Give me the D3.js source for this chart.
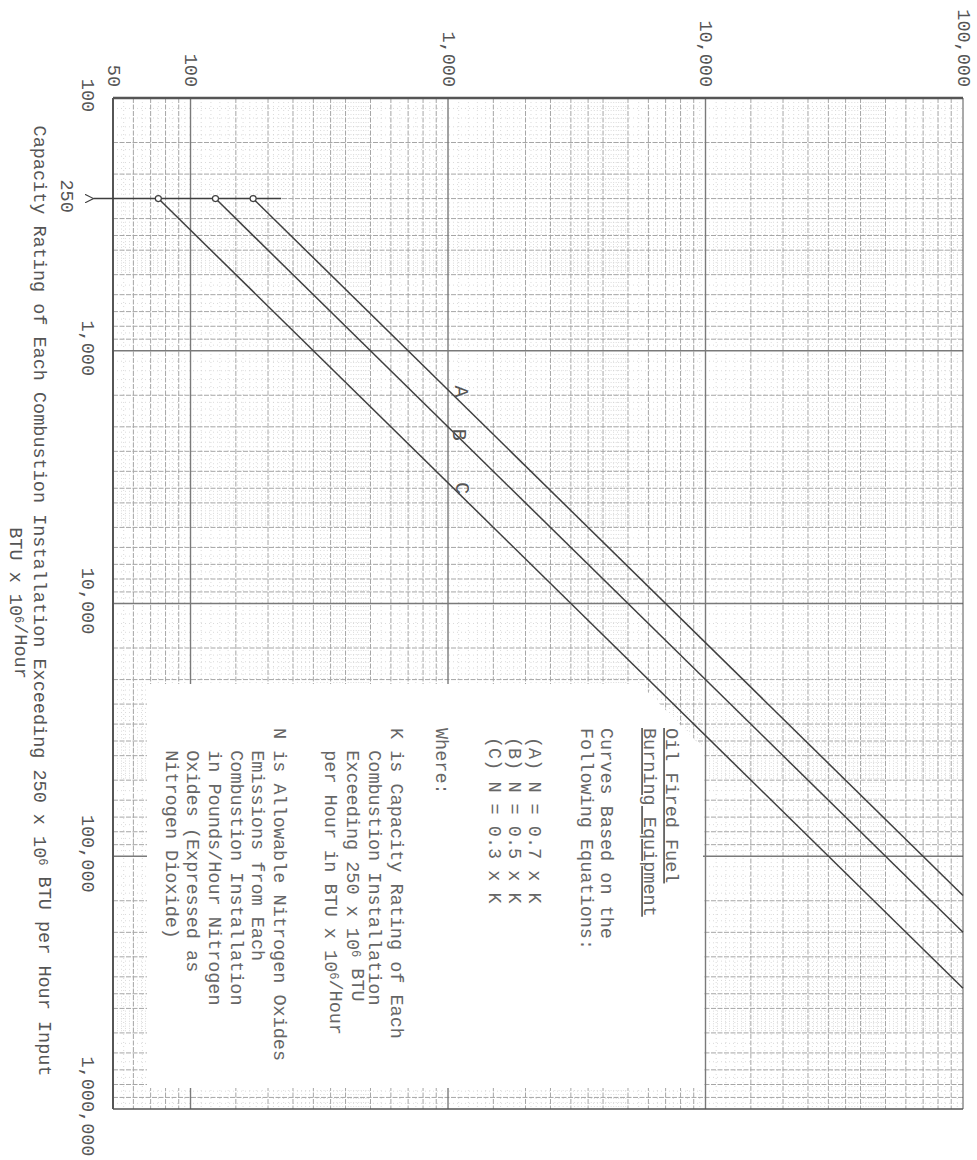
<!DOCTYPE html>
<html>
<head>
    <style type="text/css">
        body { margin: 0; background: #fff; }
        svg { display: block; }
        text {
            font-family: "Liberation Mono", "DejaVu Sans Mono", monospace;
            font-size: 18.5px;
            fill: #555;
        }
        .note text { fill: #666; }
        .fine { stroke: #d2d2d2; stroke-width: 0.8px; stroke-dasharray: 1 3; }
        .mid { stroke: #a6a6a6; stroke-width: 1px; stroke-dasharray: 5 1.5; }
        .dec { stroke: #7a7a7a; stroke-width: 1.4px; }
        .frame { stroke: #555; }
        .curve { stroke: #3f3f3f; stroke-width: 1.5px; fill: none; }
    </style>
    <script src="https://d3js.org/d3.v7.min.js"></script>
</head>
<body>
    <svg id="chart" width="977" height="1160"></svg>
<script type="text/javascript">
// allowable NOx (N, lb/hr) against capacity (K, 10^6 BTU/hr), page turned on its side
const nTicks = [50, 100, 1000, 10000, 100000];
const nTickLabels = ["50", "100", "1,000", "10,000", "100,000"];
const kTicks = [100, 250, 1000, 10000, 100000, 1000000];
const kTickLabels = ["100", "250", "1,000", "10,000", "100,000", "1,000,000"];

const curveNames = ["A", "B", "C"];
const curveK = [[250, 143000], [250, 200000], [250, 333000]];
const curveN = [[175, 100000], [125, 100000], [75, 100000]];
const labelK = [1450, 2150, 3500];
const labelN = [1130, 1110, 1140];

const thresholdK = 250;
const thresholdN = [42, 225];

const legendLines = [
    "Oil Fired Fuel",
    "Burning Equipment",
    "Curves Based on the",
    "Following Equations:",
    "(A) N = 0.7 x K",
    "(B) N = 0.5 x K",
    "(C) N = 0.3 x K",
    "Where:",
    "K is Capacity Rating of Each",
    "  Combustion Installation",
    "  Exceeding 250 x 10^6 BTU",
    "  per Hour in BTU x 10^6/Hour",
    "N is Allowable Nitrogen Oxides",
    "  Emissions from Each",
    "  Combustion Installation",
    "  in Pounds/Hour Nitrogen",
    "  Oxides (Expressed as",
    "  Nitrogen Dioxide)"
];
const titleLines = [
    "Capacity Rating of Each Combustion Installation Exceeding 250 x 10^6 BTU per Hour Input",
    "BTU x 10^6/Hour"
];

const svg = d3.select("#chart");

// N runs left to right, K runs top to bottom
const x = d3.scaleLog().domain([50, 100000]).range([113, 963]);
const y = d3.scaleLog().domain([100, 1000000]).range([98, 1109]);

// log paper rulings
const midSteps = [1.5, 2, 2.5, 3, 3.5, 4, 5, 6, 7, 8, 9];
function ruling(lo, hi) {
    const dec = [], mid = [], fine = [];
    for (let b = 10; b < hi; b *= 10) {
        if (b > lo) dec.push(b);
        midSteps.forEach(m => { const v = b * m; if (v > lo && v < hi) mid.push(v); });
        for (let k = 11; k < 100; k += (k < 20 ? 1 : k < 50 ? 1 : 5)) {
            const m = k / 10;
            if (midSteps.indexOf(m) >= 0 || k % 10 === 0) continue;
            const v = b * m;
            if (v > lo && v < hi) fine.push(v);
        }
    }
    return { dec, mid, fine };
}
const rx = ruling(50, 100000);
const ry = ruling(100, 1000000);

const grid = svg.append("g").attr("id", "grid");
["fine", "mid", "dec"].forEach(cls => {
    grid.append("g").selectAll("line")
        .data(rx[cls]).enter().append("line")
        .attr("class", cls)
        .attr("x1", d => x(d)).attr("x2", d => x(d))
        .attr("y1", y.range()[0]).attr("y2", y.range()[1]);
    grid.append("g").selectAll("line")
        .data(ry[cls]).enter().append("line")
        .attr("class", cls)
        .attr("y1", d => y(d)).attr("y2", d => y(d))
        .attr("x1", x.range()[0]).attr("x2", x.range()[1]);
});
// frame: heavy top and left, lighter bottom and right
const frame = [
    [x.range()[0], y.range()[0], x.range()[1], y.range()[0], 2.4],
    [x.range()[0], y.range()[0], x.range()[0], y.range()[1], 2.0],
    [x.range()[0], y.range()[1], x.range()[1], y.range()[1], 1.3],
    [x.range()[1], y.range()[0], x.range()[1], y.range()[1], 1.0]
];
grid.selectAll("line.frame").data(frame).enter().append("line")
    .attr("class", "frame")
    .attr("x1", d => d[0]).attr("y1", d => d[1])
    .attr("x2", d => d[2]).attr("y2", d => d[3])
    .style("stroke-width", d => d[4] + "px");

// white pasted-on note covering the lower left of the paper
svg.append("path")
    .attr("d", "M147,684 L640,684 L703,748 L703,1088 L147,1088 Z")
    .attr("fill", "#fff");

// text helper: "^6" becomes a raised 6
function addText(sel, str) {
    str.split(/(\^6)/).forEach(part => {
        if (part === "^6") {
            sel.append("tspan").attr("dy", "-0.4em").style("font-size", "12px").text("6");
            sel.append("tspan").attr("dy", "0.4em").text("");
        } else if (part.length) {
            sel.append("tspan").text(part);
        }
    });
}

// axes
const topAxis = svg.append("g")
    .call(d3.axisTop(x).tickValues(nTicks).tickFormat((d, i) => nTickLabels[i]).tickSize(0));
topAxis.select(".domain").remove();
topAxis.selectAll("text")
    .attr("x", 0).attr("y", 0).attr("dy", null)
    .attr("text-anchor", "end")
    .attr("transform", "translate(-6,87) rotate(90)");

const leftAxis = svg.append("g")
    .call(d3.axisLeft(y).tickValues(kTicks).tickFormat((d, i) => kTickLabels[i]).tickSize(0));
leftAxis.select(".domain").remove();
leftAxis.selectAll("text")
    .attr("x", 0).attr("y", 0).attr("dy", null)
    .attr("text-anchor", "middle")
    .attr("transform", d => "translate(" + (d === 250 ? 61 : 82) + ",-3) rotate(90)");

// axis title
titleLines.forEach((t, i) => {
    const el = svg.append("text")
        .attr("text-anchor", "middle")
        .attr("transform", "translate(" + (i === 0 ? 34 : 10) + "," + (i === 0 ? 601 : 603) + ") rotate(90)");
    addText(el, t);
});

// 250 threshold with arrow
svg.append("defs").append("marker")
    .attr("id", "arrow").attr("viewBox", "0 -5 10 10")
    .attr("refX", 0).attr("refY", 0)
    .attr("markerWidth", 9).attr("markerHeight", 9)
    .attr("markerUnits", "userSpaceOnUse")
    .attr("orient", "auto-start-reverse")
    .append("path").attr("d", "M10,-5 L0,0 L10,5")
    .attr("fill", "none").attr("stroke", "#3f3f3f").attr("stroke-width", 1.3);
svg.append("line").attr("class", "curve")
    .attr("x1", x(thresholdN[0])).attr("x2", x(thresholdN[1]))
    .attr("y1", y(thresholdK)).attr("y2", y(thresholdK))
    .attr("marker-start", "url(#arrow)");

// curves A, B, C
const curves = svg.append("g").selectAll("g")
    .data(curveNames).enter().append("g");
curves.append("line").attr("class", "curve")
    .attr("x1", (d, i) => x(curveN[i][0])).attr("y1", (d, i) => y(curveK[i][0]))
    .attr("x2", (d, i) => x(curveN[i][1])).attr("y2", (d, i) => y(curveK[i][1]));
curves.append("circle")
    .attr("cx", (d, i) => x(curveN[i][0])).attr("cy", (d, i) => y(curveK[i][0]))
    .attr("r", 3).attr("fill", "#fff").attr("stroke", "#3f3f3f").attr("stroke-width", 1.2);
curves.append("text")
    .style("font-size", "20px")
    .attr("text-anchor", "middle")
    .attr("transform", (d, i) => "translate(" + (x(labelN[i]) - 7) + "," + y(labelK[i]) + ") rotate(90)")
    .text(d => d);

// note text, columns from right to left
const noteX = [672, 650, 607, 587, 535, 515, 495, 442, 397, 375, 353, 331, 280, 258, 237, 215, 193, 172];
const note = svg.append("g").attr("class", "note");
legendLines.forEach((t, i) => {
    const el = note.append("text")
        .attr("xml:space", "preserve")
        .style("white-space", "pre")
        .attr("transform", "translate(" + (noteX[i] - 6) + "," + (i >= 4 && i <= 6 ? 737 : 728) + ") rotate(90)");
    if (i < 2) el.style("text-decoration", "underline");
    addText(el, t);
});
</script>
</body>
</html>
